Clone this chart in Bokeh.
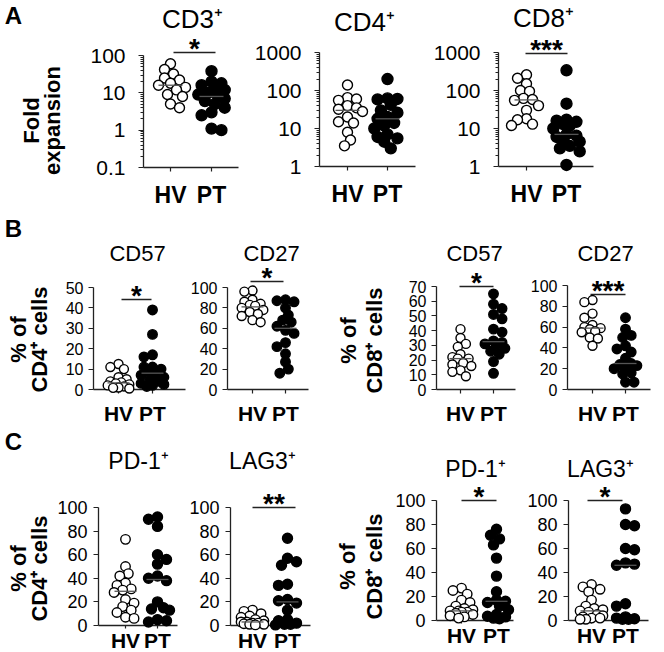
import numpy as np
from bokeh.plotting import figure
from bokeh.layouts import row, column
from bokeh.models import Range1d, FixedTicker
from bokeh.core.properties import value
from bokeh.embed import file_html
from bokeh.resources import INLINE

FONT = "Liberation Sans"
GROUPS = ["HV", "PT"]

# ---------------- data ----------------
# A: fold expansion (log scale)
cd3_hv = [60, 42, 32, 25, 22, 18, 16, 14, 12, 9, 8, 5, 4]
cd3_pt = [38, 20, 18, 16, 14, 12, 10, 9, 8, 7, 6, 5, 4, 3, 2.5, 1.1, 1.0]
cd4_hv = [140, 65, 60, 55, 40, 35, 32, 28, 20, 15, 14, 8, 5, 3.5]
cd4_pt = [200, 62, 60, 58, 42, 30, 26, 20, 18, 14, 12, 10, 7, 6, 5.5, 4.5, 3]
cd8_hv = [260, 210, 150, 100, 95, 62, 58, 55, 40, 30, 18, 17, 13, 12]
cd8_pt = [340, 45, 17, 16, 15, 13, 12, 10, 7, 6.5, 6, 5, 4.5, 3.5, 3, 2.5, 1.1]
# B: % of CD4+ / CD8+ cells
b_cd57_cd4_hv = [12.5, 11, 10, 6, 5, 4, 3.5, 3, 2.5, 2, 1.5, 1, 0.8, 0.5]
b_cd57_cd4_pt = [39, 27, 17, 16, 11, 11, 10, 9, 8, 7, 6, 5, 4, 3, 2.5, 2, 1.5]
b_cd27_cd4_hv = [97, 96, 88, 86, 84, 83, 82, 80, 78, 76, 74, 72, 68, 66]
b_cd27_cd4_pt = [88, 87, 86, 80, 73, 68, 66, 62, 58, 55, 46, 42, 35, 27, 20, 16]
b_cd57_cd8_hv = [41, 35, 31, 29, 24, 22, 21, 21, 18, 17, 16, 13, 12, 9]
b_cd57_cd8_pt = [65, 58, 55, 51, 48, 41, 39, 33, 32, 31, 30, 28, 26, 24, 19, 11]
b_cd27_cd8_hv = [86, 84, 73, 69, 62, 60, 59, 58, 56, 55, 50, 49, 42]
b_cd27_cd8_pt = [69, 58, 52, 50, 42, 39, 36, 30, 25, 24, 23, 22, 20, 16, 15, 7, 7]
# C: PD-1+ / LAG3+
c_pd1_cd4_hv = [73, 50, 44, 42, 36, 34, 31, 30, 28, 22, 19, 16, 13, 11, 7, 6]
c_pd1_cd4_pt = [92, 90, 84, 60, 56, 52, 42, 40, 38, 20, 15, 14, 13, 5, 4, 3]
c_lag3_cd4_hv = [13, 12, 10, 8, 7, 5, 4, 3, 3, 2, 2, 1.5, 1, 1, 0.5]
c_lag3_cd4_pt = [74, 57, 54, 51, 35, 34, 22, 21, 19, 13, 5, 4, 2, 1, 1, 0.5]
c_pd1_cd8_hv = [27, 25, 22, 17, 15, 12, 10, 9, 8, 8, 7, 7, 6, 5, 4, 3, 2]
c_pd1_cd8_pt = [76, 71, 68, 63, 52, 37, 24, 17, 16, 15, 12, 9, 5, 3.5, 3, 2, 1.5]
c_lag3_cd8_hv = [30, 28, 26, 24, 17, 12, 10, 9, 8, 7, 5, 4, 3, 2, 2, 1, 1]
c_lag3_cd8_pt = [93, 80, 79, 60, 59, 48, 47, 46, 14, 12, 3, 2, 1.5, 1, 1]

# tick values / labels
ticks_log_a = [0.1, 1, 10, 100]
labels_log_a = ["0.1", "1", "10", "100"]
ticks_log_b = [1, 10, 100, 1000]
labels_log_b = ["1", "10", "100", "1000"]
ticks_0_50 = [0, 10, 20, 30, 40, 50]
ticks_0_70 = [0, 10, 20, 30, 40, 50, 60, 70]
ticks_0_100 = [0, 20, 40, 60, 80, 100]


def swarm(py, d, cap):
    """Beeswarm offsets (pixels) computed from the points' pixel heights."""
    py = np.asarray(py, float)
    order = np.argsort(py)
    step = 0.3 * d
    nmax = max(1, int(cap / step))
    base = [0.0] + [s * k * step for k in range(1, nmax + 1) for s in (1, -1)]
    px_l, py_l = [], []
    out = np.zeros(len(py))
    need = (0.8 * d) ** 2
    for n, i in enumerate(order):
        flip = 1 if n % 2 == 0 else -1
        best, bestd = 0.0, -1.0
        for c0 in base:
            c = c0 * flip
            md = min(((c - a) ** 2 + (py[i] - b) ** 2 for a, b in zip(px_l, py_l)), default=1e9)
            if md >= need:
                best = c
                break
            if md > bestd:
                bestd, best = md, c
        out[i] = best
        px_l.append(best)
        py_l.append(py[i])
    return out


def txt(p, x, y, s, size, bold=False, angle=0.0, align="center", baseline="middle"):
    p.text(x=[x], y=[y], text=[s], angle=angle, text_font=value(FONT),
           text_font_size=value(f"{size}px"),
           text_font_style=value("bold" if bold else "normal"),
           text_align=value(align), text_baseline=value(baseline), text_color="black",
           level="overlay")


def make_panel(hv, pt, c, st):
    W, H = c["W"], c["H"]
    log = c.get("log", False)
    if log:
        f = lambda v: np.log10(np.asarray(v, float))
        finv = lambda t: 10.0 ** t
    else:
        f = lambda v: np.asarray(v, float)
        finv = lambda t: t
    lo, hi = c["lo"], c["hi"]
    ylo = H - c["ax_y"]
    yhi = H - c["top_y"]
    k = float((f(hi) - f(lo)) / (yhi - ylo))
    t0 = float(f(lo) - ylo * k)
    t1 = t0 + H * k
    unit = c["pt_x"] - c["hv_x"]
    X = lambda px: (px - c["hv_x"]) / unit
    Y = lambda py: float(finv(t0 + (H - py) * k))
    PY = lambda v: H - (f(v) - t0) / k

    p = figure(width=W, height=H, x_range=Range1d(X(0), X(W)),
               y_range=Range1d(float(finv(t0)), float(finv(t1))),
               y_axis_type="log" if log else "linear", output_backend="svg",
               toolbar_location=None, tools="", min_border=0,
               outline_line_color=None, background_fill_color="white",
               border_fill_color="white")
    p.title.visible = False
    p.xgrid.visible = False
    p.ygrid.visible = False

    xa = p.xaxis[0]
    ya = p.yaxis[0]
    xa.fixed_location = lo
    xa.bounds = (X(c["ax_x"]), X(c["end_x"]))
    xa.ticker = FixedTicker(ticks=[0, 1])
    xa.major_label_overrides = {0: GROUPS[0], 1: GROUPS[1]}
    xa.major_label_text_font_style = "bold"
    xa.major_label_text_font_size = f"{st['grp_fs']}px"
    xa.major_tick_out = st["xtick"]
    xa.major_label_standoff = st["xstand"]
    xa.minor_tick_line_color = None

    ya.fixed_location = X(c["ax_x"])
    ya.bounds = (lo, hi)
    ticks = c["ticks"]
    if log:
        minor = []
        for t in ticks[:-1]:
            minor += [m * t for m in range(2, 10)]
        ya.ticker = FixedTicker(ticks=ticks, minor_ticks=minor)
        ya.major_label_overrides = {t: lab for t, lab in zip(ticks, c["labels"])}
        ya.minor_tick_out = 3
        ya.minor_tick_in = 0
        ya.minor_tick_line_color = "#222222"
    else:
        ya.ticker = FixedTicker(ticks=ticks)
        ya.minor_tick_line_color = None
    ya.major_label_text_font_size = f"{st['tick_fs']}px"
    ya.major_tick_out = 5
    ya.major_label_standoff = st["ystand"]

    for ax in (xa, ya):
        ax.axis_line_color = "#222222"
        ax.axis_line_width = 1.3
        ax.major_tick_line_color = "#222222"
        ax.major_tick_line_width = 1.2
        ax.major_tick_in = 0
        ax.major_label_text_font = FONT
        ax.major_label_text_color = "black"

    for gi, (vals, filled) in enumerate([(hv, False), (pt, True)]):
        d = st["ms_f"] if filled else st["ms_o"]
        off = swarm(PY(vals), d, st["cap"])
        xs = gi + off / unit
        med = float(np.median(vals))
        p.scatter(x=list(xs), y=list(vals), marker="circle", size=d,
                  fill_color="black" if filled else "white", line_color="black",
                  line_width=1.4, level="overlay")
        p.segment(x0=[gi - st["mh"] / unit], x1=[gi + st["mh"] / unit], y0=[med], y1=[med],
                  line_color="#555555", line_width=1.3, level="overlay")

    if c.get("title"):
        tx, ty = c["title_xy"]
        txt(p, X(tx), Y(ty), c["title"], st["title_fs"])
    if c.get("stars"):
        bx0, bx1, by = c["bar"]
        p.segment(x0=[X(bx0)], x1=[X(bx1)], y0=[Y(by)], y1=[Y(by)], line_color="#222222",
                  line_width=1.6)
        txt(p, X((bx0 + bx1) / 2), Y(by - 4), c["stars"], st["star_fs"], bold=True,
            baseline="middle")
    for (lx, ly, s, size, bold, ang) in c.get("extra", []):
        txt(p, X(lx), Y(ly), s, size, bold=bold, angle=ang)
    return p


ROT = np.pi / 2
stA = dict(tick_fs=21, grp_fs=23, title_fs=26, star_fs=28, ms_o=10, ms_f=11, mh=12,
           xtick=4, xstand=10, ystand=13, cap=15)
stB = dict(tick_fs=16, grp_fs=21, title_fs=22, star_fs=28, ms_o=9, ms_f=9.5, mh=11,
           xtick=4, xstand=8, ystand=5, cap=13)
stC = dict(tick_fs=18, grp_fs=21, title_fs=23, star_fs=28, ms_o=9.5, ms_f=10, mh=11,
           xtick=3, xstand=0, ystand=6, cap=13)

HA, HB, HC = 208, 218, 226

pA1 = make_panel(cd3_hv, cd3_pt, dict(
    W=248, H=HA, ax_x=143, ax_y=167, top_y=55, hv_x=170, pt_x=211, end_x=238,
    lo=0.1, hi=100, log=True, ticks=ticks_log_a, labels=labels_log_a,
    title="CD3⁺", title_xy=(192, 18), stars="*", bar=(173, 215, 52),
    extra=[(13, 15, "A", 24, True, 0.0), (31, 120, "Fold", 22, True, ROT),
           (52, 120, "expansion", 22, True, ROT)]), stA)
pA2 = make_panel(cd4_hv, cd4_pt, dict(
    W=180, H=HA, ax_x=71, ax_y=166, top_y=52, hv_x=99, pt_x=139, end_x=167,
    lo=1, hi=1000, log=True, ticks=ticks_log_b, labels=labels_log_b,
    title="CD4⁺", title_xy=(116, 21)), stA)
pA3 = make_panel(cd8_hv, cd8_pt, dict(
    W=236, H=HA, ax_x=70, ax_y=166, top_y=52, hv_x=98, pt_x=138, end_x=165,
    lo=1, hi=1000, log=True, ticks=ticks_log_b, labels=labels_log_b,
    title="CD8⁺", title_xy=(115, 17), stars="***", bar=(97, 139, 53)), stA)

pB1 = make_panel(b_cd57_cd4_hv, b_cd57_cd4_pt, dict(
    W=186, H=HB, ax_x=93, ax_y=181, top_y=79, hv_x=118, pt_x=152, end_x=185,
    lo=0, hi=50, ticks=ticks_0_50, title="CD57", title_xy=(137, 45),
    stars="*", bar=(121, 151, 91),
    extra=[(13, 20, "B", 24, True, 0.0), (18, 131, "% of", 22, True, ROT),
           (39, 131, "CD4⁺ cells", 22, True, ROT)]), stB)
pB2 = make_panel(b_cd27_cd4_hv, b_cd27_cd4_pt, dict(
    W=142, H=HB, ax_x=41, ax_y=181, top_y=79, hv_x=66, pt_x=99, end_x=122,
    lo=0, hi=100, ticks=ticks_0_100, title="CD27", title_xy=(85, 45),
    stars="*", bar=(64, 97, 73)), stB)
pB3 = make_panel(b_cd57_cd8_hv, b_cd57_cd8_pt, dict(
    W=195, H=HB, ax_x=108, ax_y=181, top_y=78, hv_x=132, pt_x=165, end_x=187,
    lo=0, hi=70, ticks=ticks_0_70, title="CD57", title_xy=(146, 45),
    stars="*", bar=(131, 165, 78),
    extra=[(20, 132, "% of", 22, True, ROT), (46, 132, "CD8⁺ cells", 22, True, ROT)]), stB)
pB4 = make_panel(b_cd27_cd8_hv, b_cd27_cd8_pt, dict(
    W=141, H=HB, ax_x=44, ax_y=181, top_y=77, hv_x=69, pt_x=102, end_x=127,
    lo=0, hi=100, ticks=ticks_0_100, title="CD27", title_xy=(82, 45),
    stars="***", bar=(67, 102, 86)), stB)

pC1 = make_panel(c_pd1_cd4_hv, c_pd1_cd4_pt, dict(
    W=188, H=HC, ax_x=98, ax_y=199, top_y=81, hv_x=125, pt_x=157, end_x=177,
    lo=0, hi=100, ticks=ticks_0_100, title="PD-1⁺", title_xy=(138, 34),
    extra=[(13, 15, "C", 24, True, 0.0), (18, 142, "% of", 22, True, ROT),
           (39, 142, "CD4⁺ cells", 22, True, ROT)]), stC)
pC2 = make_panel(c_lag3_cd4_hv, c_lag3_cd4_pt, dict(
    W=140, H=HC, ax_x=42, ax_y=199, top_y=81, hv_x=64, pt_x=99, end_x=122,
    lo=0, hi=100, ticks=ticks_0_100, title="LAG3⁺", title_xy=(74, 34),
    stars="**", bar=(64, 107, 81)), stC)
pC3 = make_panel(c_pd1_cd8_hv, c_pd1_cd8_pt, dict(
    W=195, H=HC, ax_x=108, ax_y=194, top_y=74, hv_x=133, pt_x=168, end_x=185,
    lo=0, hi=100, ticks=ticks_0_100, title="PD-1⁺", title_xy=(147, 42),
    stars="*", bar=(133, 168, 74),
    extra=[(19, 140, "% of", 22, True, ROT), (46, 140, "CD8⁺ cells", 22, True, ROT)]), stC)
pC4 = make_panel(c_lag3_cd8_hv, c_lag3_cd8_pt, dict(
    W=141, H=HC, ax_x=45, ax_y=194, top_y=74, hv_x=68, pt_x=102, end_x=125,
    lo=0, hi=100, ticks=ticks_0_100, title="LAG3⁺", title_xy=(77, 42),
    stars="*", bar=(64, 99, 74)), stC)

layout = column(row(pA1, pA2, pA3, spacing=0),
                row(pB1, pB2, pB3, pB4, spacing=0),
                row(pC1, pC2, pC3, pC4, spacing=0), spacing=0)

open("out.html", "w").write(file_html(layout, INLINE))
